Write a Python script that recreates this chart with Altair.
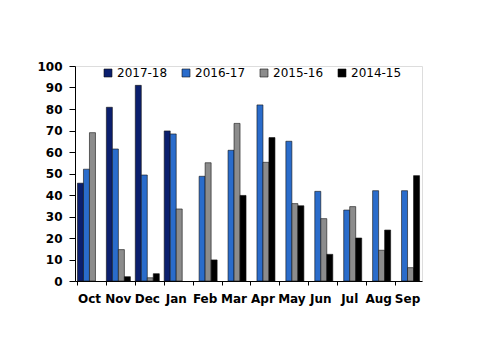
import altair as alt
import pandas as pd

months = ["Oct", "Nov", "Dec", "Jan", "Feb", "Mar", "Apr", "May", "Jun", "Jul", "Aug", "Sep"]
series = ["2017-18", "2016-17", "2015-16", "2014-15"]
colors = ["#0b1f6e", "#2a6ccb", "#8c8c8c", "#000000"]

v_2017_18 = [45.5, 80.8, 91.0, 69.8, None, None, None, None, None, None, None, None]
v_2016_17 = [52.0, 61.4, 49.3, 68.4, 48.7, 60.8, 81.9, 65.0, 41.7, 33.0, 42.0, 42.0]
v_2015_16 = [69.0, 14.6, 1.5, 33.5, 55.0, 73.3, 55.2, 36.0, 29.0, 34.6, 14.3, 6.2]
v_2014_15 = [None, 2.0, 3.4, None, 9.8, 39.8, 66.7, 35.0, 12.4, 20.0, 23.7, 49.0]

rows = []
for s, vals in zip(series, [v_2017_18, v_2016_17, v_2015_16, v_2014_15]):
    for m, v in zip(months, vals):
        if v is not None:
            rows.append({"month": m, "season": s, "value": v})
df = pd.DataFrame(rows)

font = "DejaVu Sans"

chart = alt.Chart(df).mark_bar(stroke="#111111", strokeWidth=0.6).encode(
    x=alt.X("month:N", sort=months,
            scale=alt.Scale(domain=months, paddingInner=0.17, paddingOuter=0.085),
            axis=alt.Axis(title=None, labelAngle=0, bandPosition=0, labelFont=font,
                          labelFontWeight="bold", labelFontSize=12, labelColor="black",
                          domainColor="black", tickColor="black", tickSize=4, labelPadding=8)),
    xOffset=alt.XOffset("season:N", sort=series, scale=alt.Scale(domain=series, paddingInner=0, paddingOuter=0)),
    y=alt.Y("value:Q", scale=alt.Scale(domain=[0, 100], nice=False),
            axis=alt.Axis(title=None, values=list(range(0, 101, 10)), grid=False,
                          labelFont=font, labelFontWeight="bold", labelFontSize=12,
                          labelColor="black", domainColor="black", tickColor="black",
                          tickSize=6, labelPadding=7)),
    color=alt.Color("season:N", sort=series,
                    scale=alt.Scale(domain=series, range=colors),
                    legend=alt.Legend(title=None, orient="none", legendX=27, legendY=1,
                                      direction="horizontal", columns=4, columnPadding=12,
                                      symbolType="square", symbolSize=64,
                                      symbolStrokeColor="#111111", symbolStrokeWidth=0.6,
                                      labelFont=font, labelFontSize=12, labelColor="black",
                                      symbolOffset=0, labelOffset=3)),
).properties(
    width=347, height=215,
    autosize=alt.AutoSizeParams(type="none"),
    padding={"left": 75, "top": 66, "right": 78, "bottom": 73},
).configure_view(stroke="transparent", strokeWidth=0).configure(background="white")

chart.save("out.html", embed_options={"renderer": "svg", "actions": False})
